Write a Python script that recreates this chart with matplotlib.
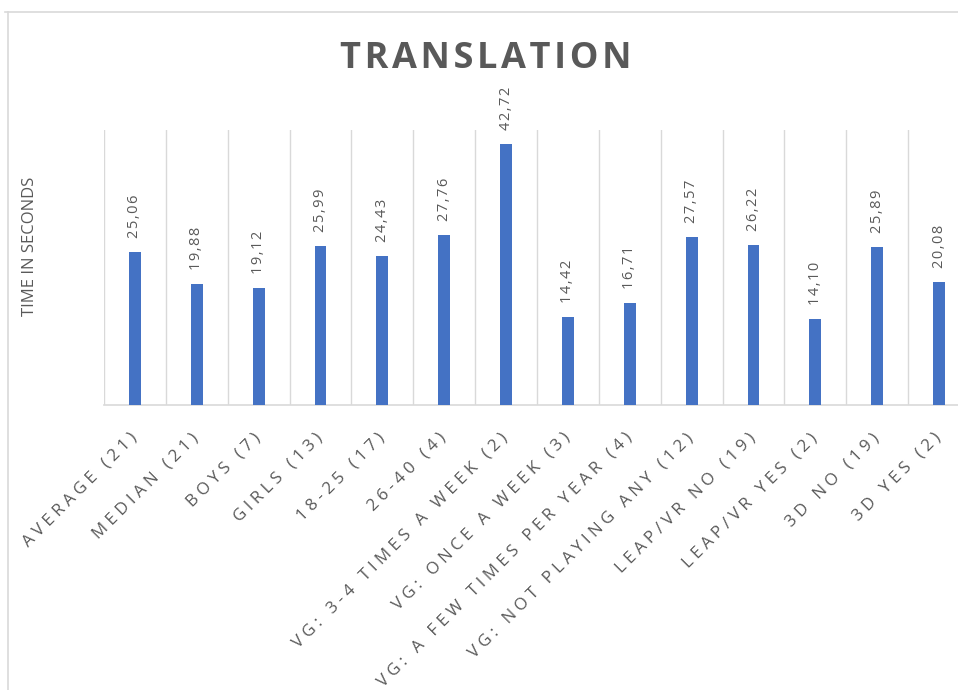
import matplotlib.pyplot as plt
from matplotlib.lines import Line2D
from matplotlib.transforms import ScaledTranslation
import numpy as np

plt.rcParams['font.family'] = ['Open Sans', 'DejaVu Sans']

categories = ['AVERAGE (21)', 'MEDIAN (21)', 'BOYS (7)', 'GIRLS (13)', '18-25 (17)', '26-40 (4)',
              'VG: 3-4 TIMES A WEEK (2)', 'VG: ONCE A WEEK (3)', 'VG: A FEW TIMES PER YEAR (4)',
              'VG: NOT PLAYING ANY (12)', 'LEAP/VR NO (19)', 'LEAP/VR YES (2)', '3D NO (19)', '3D YES (2)']
values = [25.06, 19.88, 19.12, 25.99, 24.43, 27.76, 42.72, 14.42, 16.71, 27.57, 26.22, 14.10, 25.89, 20.08]
value_labels = ['25,06', '19,88', '19,12', '25,99', '24,43', '27,76', '42,72', '14,42', '16,71',
                '27,57', '26,22', '14,10', '25,89', '20,08']


def spaced(s, sep='\u2009'):
    # Excel style letter spacing
    return sep.join(s)


fig = plt.figure(figsize=(9.58, 6.9), dpi=100)
ax = fig.add_axes([104 / 958, 1 - 405 / 690, 866 / 958, 275 / 690])

x = np.arange(len(categories))
ax.bar(x, values, width=0.19, color='#4472C4', zorder=3)

# 数据标签
for a, b, t in zip(x, values, value_labels):
    ax.annotate(spaced(t, '\u200a'), (a, b), xytext=(0, 10), textcoords='offset points', rotation=90,
                ha='center', va='bottom', fontsize=10.5, color='#595959')

ax.set_xlim(-0.5, len(categories) - 0.5)
ax.set_ylim(0, 45)
ax.set_yticks([])
ax.set_xticks(x)
ax.set_xticklabels([spaced(c, ' ') for c in categories], rotation=45, ha='right',
                   rotation_mode='anchor', fontsize=12.2, color='#595959')
ax.tick_params(axis='x', length=0, pad=15)
# 标签整体往左下挪一点
shift = ScaledTranslation(-6 / 100, -4 / 100, fig.dpi_scale_trans)
for lbl in ax.get_xticklabels():
    lbl.set_transform(lbl.get_transform() + shift)
ax.set_xticks(np.arange(-0.5, len(categories), 1), minor=True)
ax.tick_params(axis='x', which='minor', length=0)
ax.grid(which='minor', axis='x', color='#d9d9d9', linewidth=1, zorder=0)

for s in ['top', 'right', 'left']:
    ax.spines[s].set_visible(False)
ax.spines['bottom'].set_color('#d9d9d9')
ax.spines['bottom'].set_linewidth(1.2)

ax.text((30 - 104) / 866, (405 - 246) / 275, 'TIME IN SECONDS', transform=ax.transAxes,
        rotation=90, ha='center', va='center', fontsize=12, color='#595959')

fig.text(486 / 958, 1 - 59 / 690, spaced('TRANSLATION', '\u200a'), ha='center', va='center',
         fontsize=26, fontweight='bold', color='#595959')

# 图表边框
fig.add_artist(Line2D([5 / 958, 1], [1 - 12 / 690] * 2, color='#d9d9d9', linewidth=1.2))
fig.add_artist(Line2D([8 / 958] * 2, [0, 1 - 12 / 690], color='#d9d9d9', linewidth=1.2))

plt.savefig('out.png', dpi=100)
plt.close()
